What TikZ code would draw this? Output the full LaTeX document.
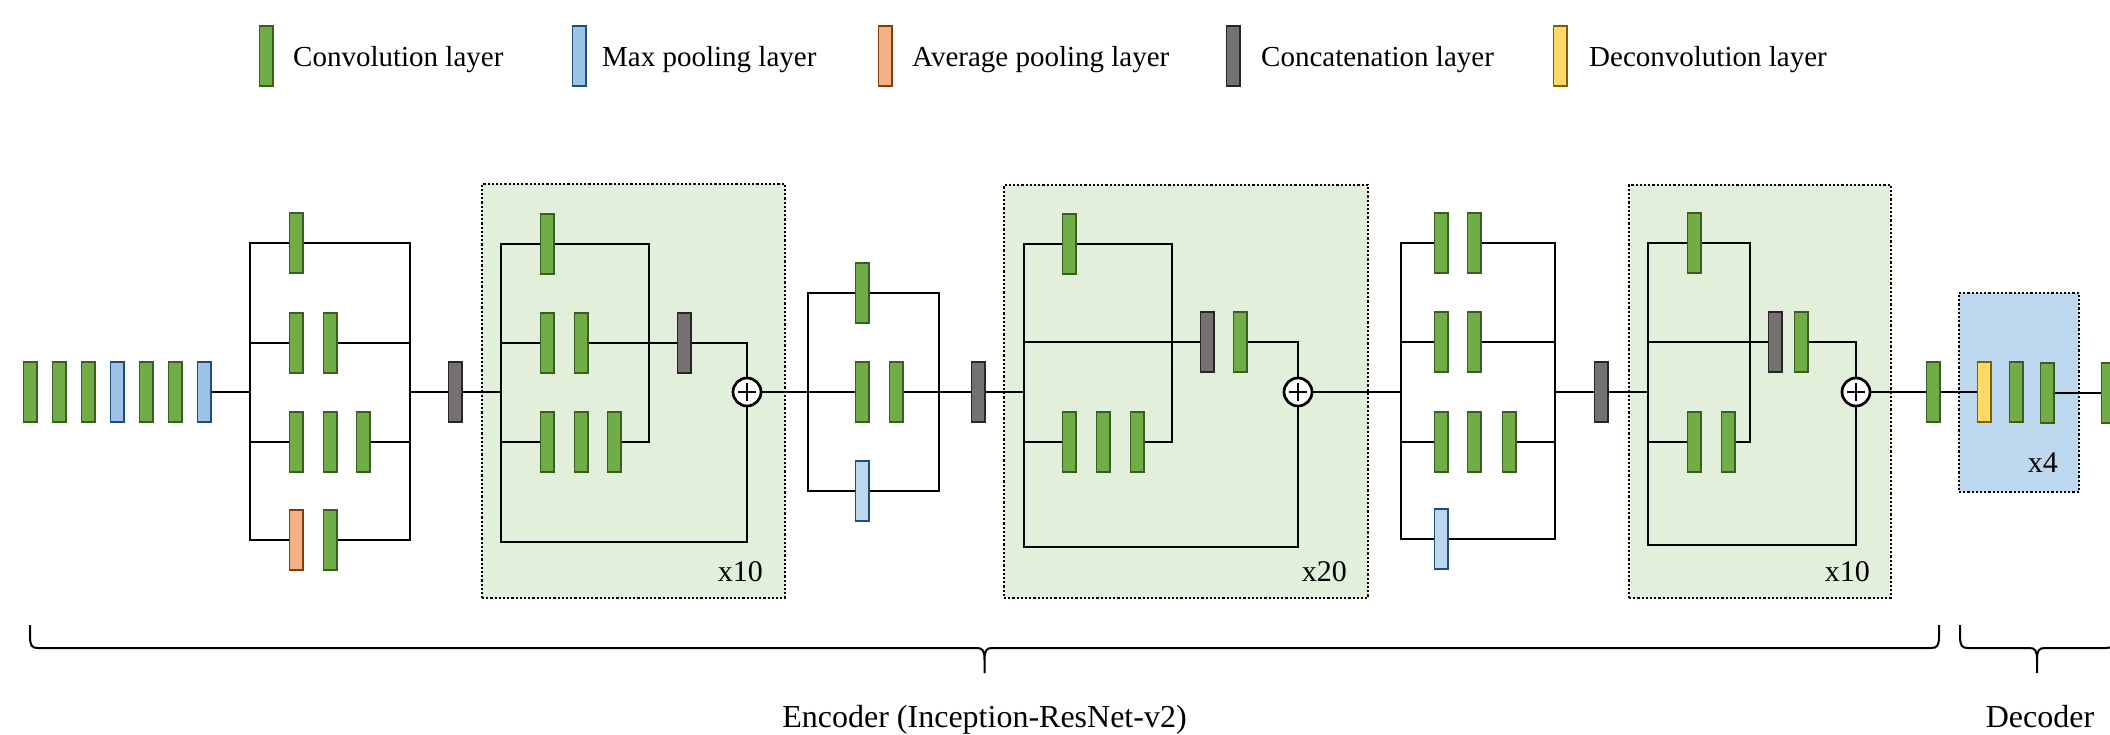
\documentclass[tikz,border=0pt]{standalone}
\usepackage{fontspec}
\setmainfont{Liberation Serif}
\usetikzlibrary{calc}
\pgfdeclarelayer{boxes}
\pgfdeclarelayer{wires}
\pgfsetlayers{boxes,wires,main}
\definecolor{convfill}{HTML}{70AD47}
\definecolor{convdraw}{HTML}{3A5E22}
\definecolor{poolfill}{HTML}{9DC3E6}
\definecolor{poolfillb}{HTML}{BDD7EE}
\definecolor{pooldraw}{HTML}{1F4E79}
\definecolor{avgfill}{HTML}{F4B183}
\definecolor{avgdraw}{HTML}{843C0C}
\definecolor{catfill}{HTML}{767171}
\definecolor{catdraw}{HTML}{262626}
\definecolor{dconvfill}{HTML}{FFD966}
\definecolor{dconvdraw}{HTML}{7F6000}
\definecolor{greenbg}{HTML}{E2EFDA}
\definecolor{bluebg}{HTML}{BDD7EE}
\tikzset{
  layer/.style={rectangle, inner sep=0pt, minimum width=13.2pt, minimum height=60.2pt, line width=1.8pt},
  conv/.style={layer, fill=convfill, draw=convdraw},
  mpool/.style={layer, fill=poolfill, draw=pooldraw},
  mpoolb/.style={layer, fill=poolfillb, draw=pooldraw},
  apool/.style={layer, fill=avgfill, draw=avgdraw},
  cat/.style={layer, fill=catfill, draw=catdraw},
  dconv/.style={layer, fill=dconvfill, draw=dconvdraw},
  wire/.style={line width=2.7pt, black, line join=miter, line cap=rect},
  addop/.style={circle, draw=black, fill=white, line width=2.7pt, minimum size=28pt, inner sep=0pt,
    path picture={\draw[line width=2.8pt] (path picture bounding box.west) ++(5pt,0) -- ++(18pt,0)
      (path picture bounding box.north) ++(0,-5pt) -- ++(0,-18pt);}},
  repbox/.style={rectangle, draw=black, line width=2.2pt, dash pattern=on 2.2pt off 2pt, inner sep=0pt},
  lbl/.style={font=\fontsize{30}{36}\selectfont, inner sep=0pt},
  legtxt/.style={font=\fontsize{29}{35}\selectfont, inner sep=0pt, anchor=base west},
  bigtxt/.style={font=\fontsize{32}{38}\selectfont, inner sep=0pt, anchor=base},
  braceline/.style={line width=2pt, black},
}
\newcommand\mybrace[3]{%
  \draw[braceline] (#1,625) -- (#1,636) .. controls (#1,646) and (#1+2,648) .. (#1+8,648)
    -- (#3-8,648) .. controls (#3-2,648) and (#3,650) .. (#3,660) -- (#3,673)
    (#3,660) .. controls (#3,650) and (#3+2,648) .. (#3+8,648)
    -- (#2-8,648) .. controls (#2-2,648) and (#2,646) .. (#2,636) -- (#2,625);}
\begin{document}
\begin{tikzpicture}[x=1pt,y=-1pt]
\useasboundingbox (0,0) rectangle (2110,734);
\clip (0,0) rectangle (2110,734);

% ---------- legend ----------
\node[conv] (lg1) at (266,56) {};
\node[legtxt] (lt1) at (293,66) {Convolution layer};
\node[mpool] (lg2) at (579,56) {};
\node[legtxt] (lt2) at (602,66) {Max pooling layer};
\node[apool] (lg3) at (885,56) {};
\node[legtxt] (lt3) at (912,66) {Average pooling layer};
\node[cat] (lg4) at (1233,56) {};
\node[legtxt] (lt4) at (1261,66) {Concatenation layer};
\node[dconv] (lg5) at (1560,56) {};
\node[legtxt] (lt5) at (1589,66) {Deconvolution layer};

% ---------- repeat boxes ----------
\begin{pgfonlayer}{boxes}
\node[repbox, fill=greenbg, minimum width=303pt, minimum height=414pt] (box1) at (633.5,391) {};
\node[repbox, fill=greenbg, minimum width=364pt, minimum height=413pt] (box2) at (1186,391.5) {};
\node[repbox, fill=greenbg, minimum width=262pt, minimum height=413pt] (box3) at (1760,391.5) {};
\node[repbox, fill=bluebg, minimum width=120pt, minimum height=199pt] (box4) at (2019,392.5) {};
\end{pgfonlayer}

% ---------- stem ----------
\node[conv] (s1) at (30,392) {};
\node[conv] (s2) at (59,392) {};
\node[conv] (s3) at (88,392) {};
\node[mpool] (s4) at (117,392) {};
\node[conv] (s5) at (146,392) {};
\node[conv] (s6) at (175,392) {};
\node[mpool] (s7) at (204,392) {};

% ---------- block A ----------
\coordinate (aL) at (250,392);
\coordinate (aR) at (410,392);
\node[conv] (a11) at (296,243) {};
\node[conv] (a21) at (296,343) {};
\node[conv] (a22) at (330,343) {};
\node[conv] (a31) at (296,442) {};
\node[conv] (a32) at (330,442) {};
\node[conv] (a33) at (363,442) {};
\node[apool] (a41) at (296,540) {};
\node[conv] (a42) at (330,540) {};
\node[cat] (c1) at (455,392) {};

% ---------- box 1 ----------
\coordinate (bL) at (501,392);
\coordinate (bR) at (649,392);
\coordinate (bLb) at (501,542);
\node[conv] (b11) at (547,244) {};
\node[conv] (b21) at (547,343) {};
\node[conv] (b22) at (581,343) {};
\node[conv] (b31) at (547,442) {};
\node[conv] (b32) at (581,442) {};
\node[conv] (b33) at (614,442) {};
\node[cat] (bc) at (684,343) {};
\node[addop] (p1) at (747,392) {};
\node[lbl, anchor=base east] (x1) at (763,581) {x10};

% ---------- block B ----------
\coordinate (cL) at (808,392);
\coordinate (cR) at (939,392);
\node[conv] (c11) at (862,293) {};
\node[conv] (c21) at (862,392) {};
\node[conv] (c22) at (896,392) {};
\node[mpoolb] (c31) at (862,491) {};
\node[cat] (c2) at (978,392) {};

% ---------- box 2 ----------
\coordinate (dL) at (1024,392);
\coordinate (dR) at (1172,392);
\coordinate (dLb) at (1024,547);
\node[conv] (d11) at (1069,244) {};
\node[conv] (d31) at (1069,442) {};
\node[conv] (d32) at (1103,442) {};
\node[conv] (d33) at (1137,442) {};
\node[cat] (dc) at (1207,342) {};
\node[conv] (d2c) at (1240,342) {};
\node[addop] (p2) at (1298,392) {};
\node[lbl, anchor=base east] (x2) at (1347,581) {x20};

% ---------- block C ----------
\coordinate (eL) at (1401,392);
\coordinate (eR) at (1555,392);
\node[conv] (e11) at (1441,243) {};
\node[conv] (e12) at (1474,243) {};
\node[conv] (e21) at (1441,342) {};
\node[conv] (e22) at (1474,342) {};
\node[conv] (e31) at (1441,442) {};
\node[conv] (e32) at (1474,442) {};
\node[conv] (e33) at (1509,442) {};
\node[mpoolb] (e41) at (1441,539) {};
\node[cat] (c4) at (1601,392) {};

% ---------- box 3 ----------
\coordinate (fL) at (1648,392);
\coordinate (fR) at (1750,392);
\coordinate (fLb) at (1648,545);
\node[conv] (f11) at (1694,243) {};
\node[conv] (f31) at (1694,442) {};
\node[conv] (f32) at (1728,442) {};
\node[cat] (fc) at (1775,342) {};
\node[conv] (f2c) at (1801,342) {};
\node[addop] (p3) at (1856,392) {};
\node[lbl, anchor=base east] (x3) at (1870,581) {x10};

% ---------- decoder ----------
\node[conv] (g0) at (1933,392) {};
\node[dconv] (y1) at (1984,392) {};
\node[conv] (g1) at (2016,392) {};
\node[conv] (g2) at (2047,393) {};
\node[conv] (g3) at (2108,393) {};
\node[lbl, anchor=base east] (x4) at (2058,472) {x4};

% ---------- wires ----------
\begin{pgfonlayer}{wires}
% stem -> block A
\draw[wire] (s7) -- (aL);
\draw[wire] (a11 -| aL) -- (a41 -| aL);
\draw[wire] (a11 -| aR) -- (a41 -| aR);
\draw[wire] (a11 -| aL) -- (a11 -| aR);
\draw[wire] (a21 -| aL) -- (a21);
\draw[wire] (a22) -- (a22 -| aR);
\draw[wire] (a31 -| aL) -- (a31);
\draw[wire] (a33) -- (a33 -| aR);
\draw[wire] (a41 -| aL) -- (a41);
\draw[wire] (a42) -- (a42 -| aR);
\draw[wire] (aR) -- (c1);
\draw[wire] (c1) -- (bL);
% box 1
\draw[wire] (b11 -| bL) -- (bLb) -| (p1);
\draw[wire] (b11 -| bL) -- (b11 -| bR) -- (b33 -| bR) -- (b33);
\draw[wire] (b21 -| bL) -- (b21);
\draw[wire] (b22) -- (bc);
\draw[wire] (b31 -| bL) -- (b31);
\draw[wire] (bc) -| (p1);
\draw[wire] (p1) -- (c21);
% block B
\draw[wire] (c11 -| cL) -- (c31 -| cL);
\draw[wire] (c11 -| cR) -- (c31 -| cR);
\draw[wire] (c11 -| cL) -- (c11 -| cR);
\draw[wire] (c31 -| cL) -- (c31 -| cR);
\draw[wire] (c22) -- (cR);
\draw[wire] (cR) -- (c2);
\draw[wire] (c2) -- (dL);
% box 2
\draw[wire] (d11 -| dL) -- (dLb) -| (p2);
\draw[wire] (d11 -| dL) -- (d11 -| dR) -- (d33 -| dR) -- (d33);
\draw[wire] (d31 -| dL) -- (d31);
\draw[wire] (dc -| dL) -- (dc);
\draw[wire] (d2c) -| (p2);
\draw[wire] (p2) -- (eL);
% block C
\draw[wire] (e11 -| eL) -- (e41 -| eL);
\draw[wire] (e11 -| eR) -- (e41 -| eR);
\draw[wire] (e11 -| eL) -- (e11);
\draw[wire] (e12) -- (e12 -| eR);
\draw[wire] (e21 -| eL) -- (e21);
\draw[wire] (e22) -- (e22 -| eR);
\draw[wire] (e31 -| eL) -- (e31);
\draw[wire] (e33) -- (e33 -| eR);
\draw[wire] (e41 -| eL) -- (e41 -| eR);
\draw[wire] (eR) -- (c4);
\draw[wire] (c4) -- (fL);
% box 3
\draw[wire] (f11 -| fL) -- (fLb) -| (p3);
\draw[wire] (f11 -| fL) -- (f11 -| fR) -- (f32 -| fR) -- (f32);
\draw[wire] (f31 -| fL) -- (f31);
\draw[wire] (fc -| fL) -- (fc);
\draw[wire] (f2c) -| (p3);
% decoder
\draw[wire] (p3) -- (g0);
\draw[wire] (g0) -- (y1);
\draw[wire] (g2) -- (g3);
\end{pgfonlayer}

% ---------- braces ----------
\mybrace{30}{1939}{984.5}
\mybrace{1960}{2114}{2037}
\node[bigtxt] (enc) at (984.5,727) {Encoder (Inception-ResNet-v2)};
\node[bigtxt] (dec) at (2040,727) {Decoder};
\end{tikzpicture}
\end{document}
